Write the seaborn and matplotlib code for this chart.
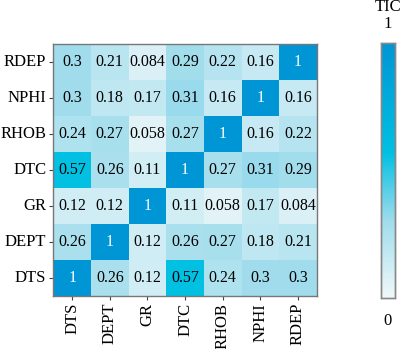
import numpy as np
import pandas as pd
import matplotlib
matplotlib.use("Agg")
import matplotlib.pyplot as plt
import seaborn as sns
from matplotlib.colors import LinearSegmentedColormap

# row order as drawn top to bottom, columns left to right
rows = ["RDEP", "NPHI", "RHOB", "DTC", "GR", "DEPT", "DTS"]
cols = ["DTS", "DEPT", "GR", "DTC", "RHOB", "NPHI", "RDEP"]

v_rdep = [0.3, 0.21, 0.084, 0.29, 0.22, 0.16, 1]
v_nphi = [0.3, 0.18, 0.17, 0.31, 0.16, 1, 0.16]
v_rhob = [0.24, 0.27, 0.058, 0.27, 1, 0.16, 0.22]
v_dtc = [0.57, 0.26, 0.11, 1, 0.27, 0.31, 0.29]
v_gr = [0.12, 0.12, 1, 0.11, 0.058, 0.17, 0.084]
v_dept = [0.26, 1, 0.12, 0.26, 0.27, 0.18, 0.21]
v_dts = [1, 0.26, 0.12, 0.57, 0.24, 0.3, 0.3]

df = pd.DataFrame([v_rdep, v_nphi, v_rhob, v_dtc, v_gr, v_dept, v_dts],
                  index=rows, columns=cols)

cmap = LinearSegmentedColormap.from_list(
    "tic", [(0.0, "#f0f8fa"), (0.3, "#9fdcec"), (0.57, "#00c0e2"), (1.0, "#0096d5")])

plt.rcParams["font.family"] = ["Liberation Serif", "DejaVu Serif"]

fig = plt.figure(figsize=(4.01, 3.49), dpi=100)
ax = fig.add_axes([0.133, 0.152, 0.657, 0.722])
cax = fig.add_axes([0.950, 0.146, 0.035, 0.731])

sns.heatmap(df, ax=ax, cbar_ax=cax, cmap=cmap, vmin=0, vmax=1,
            annot=True, fmt=".2g", annot_kws={"fontsize": 11.5})

for t in ax.texts:
    if t.get_text() == "1":
        t.set_color("white")
    else:
        t.set_color("black")

ax.tick_params(axis="both", labelsize=12, length=3, width=0.8, color="#444444", pad=2)
ax.set_xticklabels(cols, rotation=90)
ax.set_yticklabels(rows, rotation=0)
ax.set_xlabel("")
ax.set_ylabel("")
for s in ax.spines.values():
    s.set_visible(True)
    s.set_color("#777777")
    s.set_linewidth(1)

cax.set_yticks([])
cax.set_xticks([])
for s in cax.spines.values():
    s.set_visible(True)
    s.set_color("#888888")
    s.set_linewidth(1)
cax.text(0.5, 1.075, "1", transform=cax.transAxes, ha="center", va="center", fontsize=12)
cax.text(0.5, 1.14, "TIC", transform=cax.transAxes, ha="center", va="center", fontsize=12)
cax.text(0.5, -0.09, "0", transform=cax.transAxes, ha="center", va="center", fontsize=12)

fig.savefig("out.png", dpi=100)
